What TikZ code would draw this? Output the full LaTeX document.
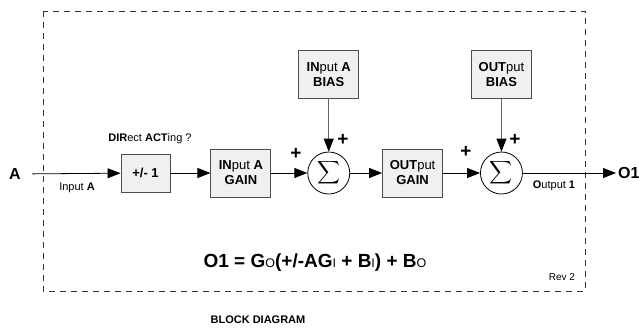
\documentclass[tikz,border=0pt]{standalone}
\usepackage{fontspec}
\setmainfont{Liberation Sans}
\usetikzlibrary{arrows.meta,positioning}

\newcommand{\lowsub}[1]{{\mdseries\fontsize{12.5}{12.5}\selectfont #1}}

\begin{document}
\begin{tikzpicture}[x=1pt, y=-1pt,
  box/.style={draw=black!70, fill=gray!12, line width=0.9pt, align=center, minimum width=60pt, minimum height=48pt, inner sep=1pt, font=\fontsize{13}{15}\selectfont},
  sumnode/.style={draw, circle, minimum size=42pt, inner sep=0pt, line width=0.8pt},
  lbl/.style={font=\fontsize{11}{13}\selectfont},
  plus/.style={font=\fontsize{19}{19}\selectfont\bfseries, inner sep=0pt},
  arr/.style={-{Triangle[length=13pt, width=10pt]}, line width=0.8pt},
  grayarr/.style={-{Triangle[length=13pt, width=10pt, color=black]}, line width=0.8pt, draw=black!60},
  frame/.style={draw=black!80, line width=0.8pt, dash pattern=on 6pt off 5pt}
]
\useasboundingbox (0,0) rectangle (639,329);

\draw[frame] (43,11) rectangle (585,291);

% signal path
\node[font=\fontsize{16}{16}\selectfont\bfseries] (ina) at (15,174) {A};
\node[box, minimum width=49pt, minimum height=38pt] (flip) at (145.5,173) {\textbf{+/- 1}};
\node[box, right=40pt of flip] (ingain) {\textbf{IN}put \textbf{A}\\\textbf{GAIN}};
\node[sumnode, right=36pt of ingain] (sumin) {\scalebox{1.6}{$\displaystyle\sum$}};
\node[box, above=53pt of sumin] (inbias) {\textbf{IN}put \textbf{A}\\\textbf{BIAS}};
\node[box, right=32pt of sumin] (outgain) {\textbf{OUT}put\\\textbf{GAIN}};
\node[sumnode, right=37pt of outgain] (sumout) {\scalebox{1.6}{$\displaystyle\sum$}};
\node[box, above=53pt of sumout] (outbias) {\textbf{OUT}put\\\textbf{BIAS}};
\node[anchor=west, inner sep=2pt, font=\fontsize{16}{16}\selectfont\bfseries] (outo) at (616,173) {O1};

\draw[arr, shorten <=8pt] (ina) -- (flip);
\draw[arr] (flip) -- (ingain);
\draw[arr] (ingain) -- (sumin);
\draw[arr] (sumin) -- (outgain);
\draw[arr] (outgain) -- (sumout);
\draw[arr] (sumout) -- (outo);
\draw[grayarr] (inbias) -- (sumin);
\draw[grayarr] (outbias) -- (sumout);

% labels
\node[lbl] (inlbl) at (77,188) {Input \textbf{A}};
\node[lbl] (dirlbl) at (150,139) {\textbf{DIR}ect \textbf{ACT}ing ?};
\node[lbl] (outlbl) at (554,186) {\textbf{O}utput \textbf{1}};
\node[plus] (plusa) at (296,154) {+};
\node[plus] (plusb) at (343,140) {+};
\node[plus] (plusc) at (466,152) {+};
\node[plus] (plusd) at (515,140) {+};

\node[font=\fontsize{19}{19}\selectfont\bfseries] (formula) at (315,263)
  {O1 = G\lowsub{O}(+/-AG\lowsub{I} + B\lowsub{I}) + B\lowsub{O}};
\node[font=\fontsize{10}{10}\selectfont] (rev) at (562,277) {Rev 2};
\node[font=\fontsize{11}{11}\selectfont\bfseries] (title) at (258,320) {BLOCK DIAGRAM};

\end{tikzpicture}
\end{document}
